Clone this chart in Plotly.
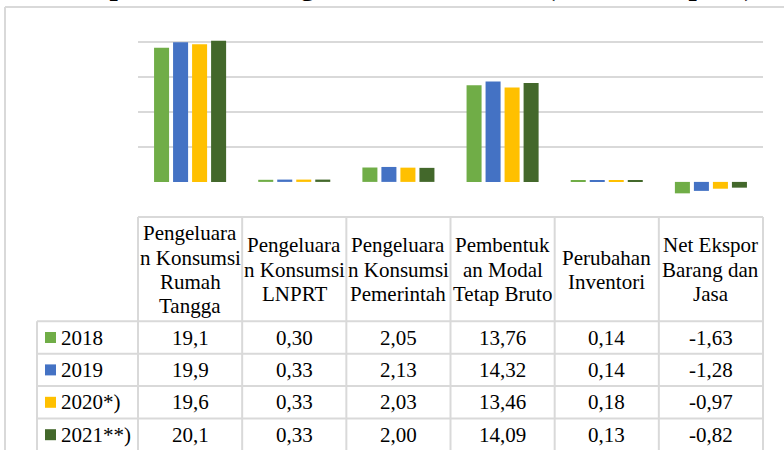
import plotly.graph_objects as go

# ---------------- data ----------------
categories = [
    "Pengeluara<br>n Konsumsi<br>Rumah<br>Tangga",
    "Pengeluara<br>n Konsumsi<br>LNPRT",
    "Pengeluara<br>n Konsumsi<br>Pemerintah",
    "Pembentuk<br>an Modal<br>Tetap Bruto",
    "Perubahan<br>Inventori",
    "Net Ekspor<br>Barang dan<br>Jasa",
]
series_names = ["2018", "2019", "2020*)", "2021**)"]
v2018 = [19.1, 0.30, 2.05, 13.76, 0.14, -1.63]
v2019 = [19.9, 0.33, 2.13, 14.32, 0.14, -1.28]
v2020 = [19.6, 0.33, 2.03, 13.46, 0.18, -0.97]
v2021 = [20.1, 0.33, 2.00, 14.09, 0.13, -0.82]
decimals = [1, 2, 2, 2, 2, 2]
grid_ticks = [-5, 5, 10, 15, 20]
title_text = "Kabupaten Semarang Tahun 2018-2021 (Triliun Rupiah)"

series_values = [v2018, v2019, v2020, v2021]
colors = ["#70AD47", "#4472C4", "#FFC000", "#43682B"]

# ---------------- layout geometry (pixels) ----------------
W, H = 784, 450
L, R, T, B = 138, 763, 38, 217
GRID = "#d9d9d9"
FONT = "Liberation Serif, Times New Roman, serif"


def px(x):
    return (x - L) / (R - L)


def py(y):
    return (B - y) / (B - T)


fig = go.Figure()
for name, vals, col in zip(series_names, series_values, colors):
    fig.add_trace(go.Bar(x=categories, y=vals, name=name,
                         marker=dict(color=col, line=dict(width=0))))

shapes = []
annotations = []


def hline(y, x0, x1, w=2):
    shapes.append(dict(type="line", xref="paper", yref="paper",
                       x0=px(x0), x1=px(x1), y0=py(y), y1=py(y),
                       line=dict(color=GRID, width=w)))


def vline(x, y0, y1, w=2):
    shapes.append(dict(type="line", xref="paper", yref="paper",
                       x0=px(x), x1=px(x), y0=py(y0), y1=py(y1),
                       line=dict(color=GRID, width=w)))


# outer chart frame
hline(7, 5, 790)
vline(5, 7, 460)

# data table
ncat = len(categories)
col_edges = [L + i * (R - L) / ncat for i in range(ncat + 1)]
header_top, header_bot = 217, 321.3
row_h = 32.4
nrows = len(series_names)
row_edges = [header_bot + k * row_h for k in range(nrows + 1)]
table_bottom = row_edges[-1]
leg_left = 37

hline(header_top, L, R)
for k, yy in enumerate(row_edges):
    hline(yy, leg_left, R)
for xx in col_edges:
    vline(xx, header_top, table_bottom + 5)
vline(leg_left, header_bot, table_bottom + 5)

tfont = dict(family=FONT, size=21, color="black")

# header labels
line_gap = 24.3
hcenter = (header_top + header_bot) / 2 + 0.5
for i, cat in enumerate(categories):
    lines = cat.split("<br>")
    n = len(lines)
    cx = (col_edges[i] + col_edges[i + 1]) / 2
    for j, ln in enumerate(lines):
        yy = hcenter + (j - (n - 1) / 2) * line_gap
        annotations.append(dict(text=ln, x=px(cx), y=py(yy), xref="paper", yref="paper",
                                xanchor="center", yanchor="middle", showarrow=False,
                                font=tfont))

# rows
for r, (name, vals, col) in enumerate(zip(series_names, series_values, colors)):
    cy = (row_edges[r] + row_edges[r + 1]) / 2
    shapes.append(dict(type="rect", xref="paper", yref="paper",
                       x0=px(45), x1=px(56), y0=py(cy - 5.5), y1=py(cy + 5.5),
                       fillcolor=col, line=dict(width=0)))
    annotations.append(dict(text=name, x=px(59), y=py(cy), xref="paper", yref="paper",
                            xanchor="left", yanchor="middle", showarrow=False, font=tfont))
    for i, v in enumerate(vals):
        cx = (col_edges[i] + col_edges[i + 1]) / 2
        s = f"{v:.{decimals[i]}f}".replace(".", ",")
        annotations.append(dict(text=s, x=px(cx), y=py(cy), xref="paper", yref="paper",
                                xanchor="center", yanchor="middle", showarrow=False,
                                font=tfont))

# title (mostly cut off at top, as in the reference)
annotations.append(dict(text="<b>" + title_text + "</b>", x=px(396), y=py(-15),
                        xref="paper", yref="paper", xanchor="center", yanchor="middle",
                        showarrow=False,
                        font=dict(family=FONT, size=29.5, color="black")))

fig.update_layout(
    width=W, height=H,
    margin=dict(l=L, r=W - R, t=T, b=H - B, pad=0),
    paper_bgcolor="white", plot_bgcolor="white",
    barmode="group", bargap=0.27, bargroupgap=0.21,
    showlegend=False,
    xaxis=dict(visible=False, range=[-0.5, ncat - 0.5]),
    yaxis=dict(range=[-5, 20.5], tickvals=grid_ticks, showticklabels=False,
               showgrid=True, gridcolor=GRID, gridwidth=2, zeroline=False,
               showline=False, ticks=""),
    shapes=shapes,
    annotations=annotations,
)

fig.write_html("out.html", config={"displayModeBar": False},
               post_script="document.body.style.margin='0';document.body.style.overflow='hidden';")
